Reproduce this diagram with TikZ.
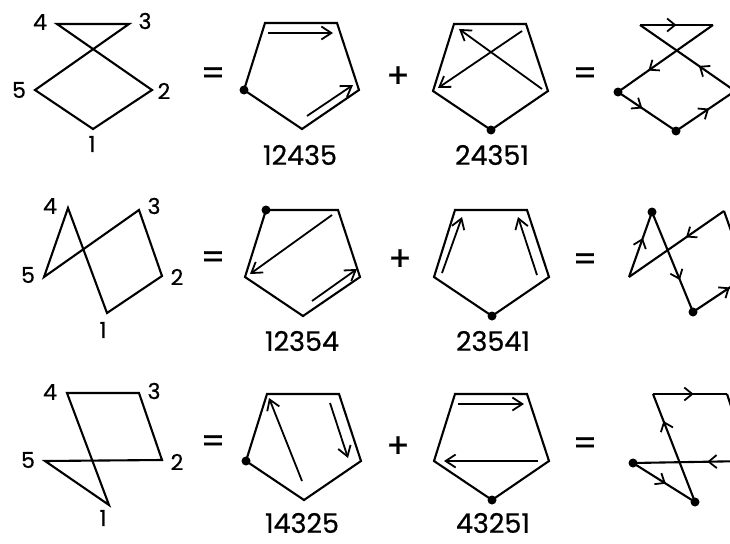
\documentclass[tikz,border=0pt]{standalone}
\usepackage{fontspec}
\setmainfont{Poppins}
\newfontfamily\labfont[FakeBold=0.6]{Poppins}
\usetikzlibrary{arrows.meta,decorations.markings}
\newcommand\mypent[3]{%
  \coordinate (#1TL) at (#2,#3);
  \coordinate (#1TR) at (#2+72,#3);
  \coordinate (#1R)  at (#2+94,#3+67);
  \coordinate (#1B)  at (#2+37,#3+106);
  \coordinate (#1L)  at (#2-21,#3+67);
  \draw[edge] (#1TL) -- (#1TR) -- (#1R) -- (#1B) -- (#1L) -- cycle;}
\begin{document}
\begin{tikzpicture}[x=1pt,y=-1pt,
  edge/.style={line width=2.1pt, line join=miter},
  parr/.style={line width=1.8pt, -{Straight Barb[length=10pt,width=13pt]}},
  marr/.style={postaction={decorate,decoration={markings,mark=at position #1 with {\arrow{Straight Barb[length=8pt,width=13pt,line width=1.8pt]}}}}},
  vlab/.style={font=\labfont\fontsize{22}{22}\selectfont, inner sep=0pt},
  clab/.style={font=\labfont\fontsize{27}{27}\selectfont, inner sep=0pt},
  op/.style={font=\labfont\fontsize{34}{34}\selectfont, inner sep=0pt},
  vdot/.style={circle, fill, inner sep=0pt, minimum size=9pt}]
\clip (0,0) rectangle (730,543);
\fill[white] (0,0) rectangle (730,543);

% ---------- Row 1 ----------
\coordinate (l1v4) at (57,24);  \coordinate (l1v3) at (129,24);
\coordinate (l1v5) at (35,90);  \coordinate (l1v2) at (152,90);
\coordinate (l1v1) at (93,129);
\draw[edge] (l1v1) -- (l1v2) -- (l1v4) -- (l1v3) -- (l1v5) -- cycle;
\node[vlab] (l1t4) at (40,22) {4};
\node[vlab] (l1t3) at (145,21) {3};
\node[vlab] (l1t5) at (19,90) {5};
\node[vlab] (l1t2) at (164,91) {2};
\node[vlab] (l1t1) at (92,144) {1};
\node[op] (eq1a) at (213,76) {=};

\mypent{pa}{265}{23}
\node[vdot] (pad) at (paL) {};
\draw[parr] (268,33) -- (333,33);
\draw[parr] (307,116) -- (353,85);
\node[clab] (pat) at (300,155) {12435};
\node[op] (plus1) at (398,77) {+};

\mypent{pb}{454}{24}
\node[vdot] (pbd) at (pbB) {};
\draw[parr] (542,89) -- (459,29);
\draw[parr] (522,31) -- (438,88);
\node[clab] (pbt) at (492,155) {24351};
\node[op] (eq1b) at (585,76) {=};

\coordinate (a4) at (640,25);  \coordinate (a3) at (713,25);
\coordinate (a5) at (618,92);  \coordinate (a1) at (676,131);
\coordinate (a2) at (735,91);
\draw[edge, marr=0.5] (a4) -- (a3);
\draw[edge, marr=0.68] (a3) -- (a5);
\draw[edge, marr=0.42] (a5) -- (a1);
\draw[edge, marr=0.56] (a1) -- (a2);
\draw[edge, marr=0.38] (a2) -- (a4);
\node[vdot] (a5d) at (a5) {};
\node[vdot] (a1d) at (a1) {};

% ---------- Row 2 ----------
\coordinate (l2v4) at (68,208);  \coordinate (l2v3) at (139,210);
\coordinate (l2v5) at (44,277);  \coordinate (l2v2) at (162,276);
\coordinate (l2v1) at (107,313);
\draw[edge] (l2v5) -- (l2v4) -- (l2v1) -- (l2v2) -- (l2v3) -- cycle;
\node[vlab] (l2t4) at (50,206) {4};
\node[vlab] (l2t3) at (154,206) {3};
\node[vlab] (l2t5) at (28,275) {5};
\node[vlab] (l2t2) at (177,277) {2};
\node[vlab] (l2t1) at (103,330) {1};
\node[op] (eq2a) at (213,260) {=};

\mypent{pc}{266}{210}
\node[vdot] (pcd) at (pcTL) {};
\draw[parr] (332,215) -- (250,274);
\draw[parr] (312,301) -- (357,269);
\node[clab] (pct) at (302,341) {12354};
\node[op] (plus2) at (400,260) {+};

\mypent{pd}{455}{210}
\node[vdot] (pdd) at (pdB) {};
\draw[parr] (442,273) -- (462,217);
\draw[parr] (537,275) -- (518,217);
\node[clab] (pdt) at (493,341) {23541};
\node[op] (eq2b) at (585,262) {=};

\coordinate (b4) at (652,212);  \coordinate (b3) at (724,211);
\coordinate (b5) at (629,277);  \coordinate (b1) at (693,312);
\coordinate (b2) at (747,276);
\draw[edge, marr=0.6] (b5) -- (b4);
\draw[edge, marr=0.68] (b4) -- (b1);
\draw[edge, marr=0.68] (b1) -- (b2);
\draw[edge] (b2) -- (b3);
\draw[edge, marr=0.4] (b3) -- (b5);
\node[vdot] (b4d) at (b4) {};
\node[vdot] (b1d) at (b1) {};

% ---------- Row 3 ----------
\coordinate (l3v4) at (67,393);  \coordinate (l3v3) at (139,393);
\coordinate (l3v5) at (45,461);  \coordinate (l3v2) at (162,460);
\coordinate (l3v1) at (109,505);
\draw[edge] (l3v4) -- (l3v3) -- (l3v2) -- (l3v5) -- (l3v1) -- cycle;
\node[vlab] (l3t4) at (50,392) {4};
\node[vlab] (l3t3) at (154,391) {3};
\node[vlab] (l3t5) at (28,460) {5};
\node[vlab] (l3t2) at (177,462) {2};
\node[vlab] (l3t1) at (103,518) {1};
\node[op] (eq3a) at (213,444) {=};

\mypent{pe}{267}{394}
\node[vdot] (ped) at (peL) {};
\draw[parr] (302,481) -- (269,398);
\draw[parr] (330,403) -- (348,458);
\node[clab] (pet) at (302,523) {14325};
\node[op] (plus3) at (398,447) {+};

\mypent{pf}{455}{394}
\node[vdot] (pfd) at (pfB) {};
\draw[parr] (458,404) -- (524,404);
\draw[parr] (538,461) -- (444,461);
\node[clab] (pft) at (493,523) {43251};
\node[op] (eq3b) at (585,446) {=};

\coordinate (c4) at (653,394);  \coordinate (c3) at (727,394);
\coordinate (c2) at (749,461);  \coordinate (c5) at (633,463);
\coordinate (c1) at (695,502);
\draw[edge, marr=0.55] (c4) -- (c3);
\draw[edge] (c3) -- (c2);
\draw[edge, marr=0.36] (c2) -- (c5);
\draw[edge, marr=0.53] (c5) -- (c1);
\draw[edge, marr=0.75] (c1) -- (c4);
\node[vdot] (c5d) at (c5) {};
\node[vdot] (c1d) at (c1) {};
\end{tikzpicture}
\end{document}
